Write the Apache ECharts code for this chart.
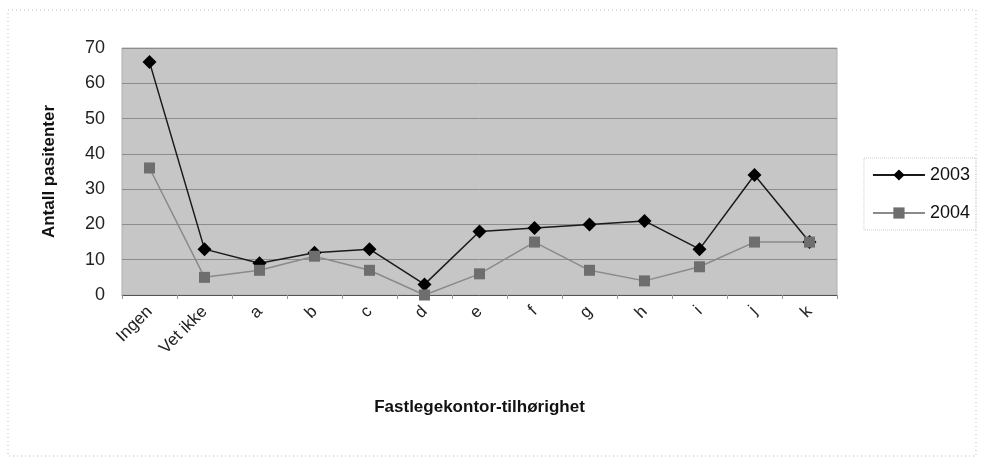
<!DOCTYPE html>
<html>
<head>
<meta charset="utf-8">
<script src="https://cdn.jsdelivr.net/npm/echarts@6/dist/echarts.min.js"></script>
<style>html,body{margin:0;padding:0;background:#fff}#c{width:986px;height:473px}</style>
</head>
<body>
<div id="c"></div>
<script>
const categories = ['Ingen','Vet ikke','a','b','c','d','e','f','g','h','i','j','k'];
const values2003 = [66, 13, 9, 12, 13, 3, 18, 19, 20, 21, 13, 34, 15];
const values2004 = [36, 5, 7, 11, 7, 0, 6, 15, 7, 4, 8, 15, 15];
const yTicks = [0, 10, 20, 30, 40, 50, 60, 70];

const chart = echarts.init(document.getElementById('c'));
const font = 'Liberation Sans, Arial, sans-serif';
chart.setOption({
  animation: false,
  backgroundColor: '#ffffff',
  textStyle: {fontFamily: font},
  graphic: [{
    type: 'rect', shape: {x: 8, y: 10, width: 968, height: 446},
    style: {fill: 'none', stroke: '#bbbbbb', lineWidth: 1, lineDash: [1, 3]}, silent: true
  }],
  grid: {left: 122, right: 149, top: 48, bottom: 178, show: true, backgroundColor: '#c6c6c6', borderColor: '#b0b0b0', borderWidth: 1},
  legend: {
    orient: 'vertical', right: 10, top: 158, itemWidth: 52, itemHeight: 14, itemGap: 20,
    padding: [8, 6, 8, 8],
    borderColor: '#cccccc', borderWidth: 1, borderType: 'dotted',
    textStyle: {fontSize: 18, color: '#111', fontFamily: font},
    data: ['2003', '2004']
  },
  xAxis: {
    type: 'category', data: categories, boundaryGap: true,
    name: 'Fastlegekontor-tilhørighet', nameLocation: 'middle', nameGap: 104,
    nameTextStyle: {fontSize: 17, fontWeight: 'bold', color: '#111', fontFamily: font},
    axisLine: {lineStyle: {color: '#555'}},
    axisTick: {show: true, alignWithLabel: false, lineStyle: {color: '#999'}, length: 4},
    axisLabel: {rotate: 45, fontSize: 17, color: '#222', margin: 14, interval: 0, fontFamily: font}
  },
  yAxis: {
    type: 'value', min: 0, max: 70, interval: 10,
    name: 'Antall pasitenter', nameLocation: 'middle', nameGap: 64,
    nameTextStyle: {fontSize: 17, fontWeight: 'bold', color: '#111', fontFamily: font},
    axisLine: {show: false}, axisTick: {show: false},
    axisLabel: {fontSize: 18, color: '#222', margin: 17, fontFamily: font,
      formatter: v => yTicks.includes(v) ? String(v) : ''},
    splitLine: {lineStyle: {color: '#8c8c8c', width: 1}}
  },
  series: [
    {name: '2003', type: 'line', data: values2003, symbol: 'diamond', symbolSize: 14,
      itemStyle: {color: '#000000'}, lineStyle: {color: '#1a1a1a', width: 1.5}},
    {name: '2004', type: 'line', data: values2004, symbol: 'rect', symbolSize: 11,
      itemStyle: {color: '#6e6e6e'}, lineStyle: {color: '#8a8a8a', width: 1.5}}
  ]
});
</script>
</body>
</html>
